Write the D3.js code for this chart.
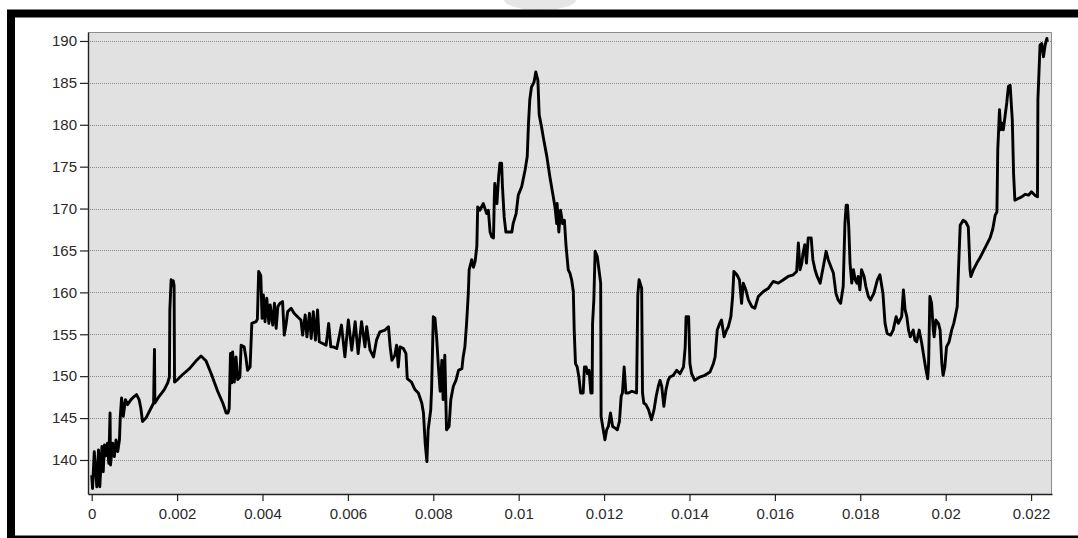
<!DOCTYPE html>
<html>
<head>
<meta charset="utf-8">
<script src="https://cdn.jsdelivr.net/npm/d3@7"></script>
<style>
  html, body { margin: 0; padding: 0; background: #fff; }
  svg { display: block; }
</style>
</head>
<body>
<div id="chart"></div>
<script>
// time in seconds
const time = [
  0, 0.00002, 0.00006, 0.00012, 0.00016, 0.00019, 0.00024, 0.00027, 0.0003, 0.00033,
  0.00037, 0.0004, 0.00043, 0.00044, 0.00049, 0.00053, 0.00057, 0.00061, 0.00065, 0.00067,
  0.0007, 0.00074, 0.00079, 0.00084, 0.00092, 0.001, 0.00105, 0.00111, 0.00115, 0.00119,
  0.00127, 0.00139, 0.00145, 0.00147, 0.00148, 0.00158, 0.0017, 0.00178, 0.00182, 0.00183,
  0.00186, 0.00189, 0.00191, 0.00193, 0.00194, 0.00201, 0.00213, 0.00229, 0.00244, 0.00256,
  0.00268, 0.00279, 0.00295, 0.00307, 0.00315, 0.00319, 0.00322, 0.00325, 0.00328, 0.0033,
  0.00334, 0.00338, 0.00342, 0.00347, 0.0035, 0.00357, 0.00361, 0.00365, 0.00371, 0.00375,
  0.00385, 0.00388, 0.00391, 0.00396, 0.00399, 0.00402, 0.00406, 0.0041, 0.00415, 0.00418,
  0.00424, 0.00428, 0.00432, 0.00436, 0.00441, 0.00447, 0.00451, 0.00455, 0.00459, 0.00467,
  0.00474, 0.00482, 0.0049, 0.00494, 0.005, 0.00504, 0.0051, 0.00514, 0.00519, 0.00524,
  0.00529, 0.00533, 0.00541, 0.00549, 0.00555, 0.0056, 0.00566, 0.00574, 0.00585, 0.00593,
  0.00601, 0.00609, 0.00617, 0.00624, 0.00632, 0.0064, 0.00644, 0.00652, 0.0066, 0.00667,
  0.00675, 0.00687, 0.00695, 0.00699, 0.00703, 0.0071, 0.00714, 0.00718, 0.00722, 0.0073,
  0.00736, 0.00739, 0.00749, 0.00757, 0.00765, 0.00773, 0.00777, 0.00781, 0.00785, 0.00788,
  0.00794, 0.00796, 0.008, 0.00804, 0.00808, 0.00812, 0.00816, 0.0082, 0.00823, 0.00827,
  0.00831, 0.00837, 0.00841, 0.00847, 0.00853, 0.00859, 0.00867, 0.0087, 0.00874, 0.00878,
  0.00882, 0.00884, 0.0089, 0.00894, 0.00898, 0.00902, 0.00904, 0.00909, 0.00917, 0.00925,
  0.00929, 0.00933, 0.00937, 0.00941, 0.00943, 0.00944, 0.00949, 0.00953, 0.00956, 0.0096,
  0.00962, 0.00966, 0.0097, 0.00984, 0.00987, 0.00994, 0.00999, 0.01007, 0.01015, 0.0102,
  0.01023, 0.01026, 0.0103, 0.01036, 0.0104, 0.01045, 0.01048, 0.01054, 0.01058, 0.01066,
  0.01073, 0.01081, 0.01085, 0.01089, 0.0109, 0.01094, 0.01098, 0.01103, 0.01107, 0.01111,
  0.01116, 0.0112, 0.01124, 0.01128, 0.0113, 0.01133, 0.01137, 0.01141, 0.01145, 0.01151,
  0.01154, 0.01158, 0.01161, 0.01165, 0.01169, 0.01172, 0.01173, 0.01176, 0.01179, 0.01184,
  0.01188, 0.01192, 0.01193, 0.01198, 0.01202, 0.01206, 0.0121, 0.01215, 0.0122, 0.01226,
  0.01231, 0.01236, 0.0124, 0.01243, 0.01247, 0.01251, 0.01257, 0.01265, 0.01276, 0.01279,
  0.01282, 0.01288, 0.0129, 0.01293, 0.01298, 0.01304, 0.01311, 0.01317, 0.01322, 0.01327,
  0.01331, 0.01335, 0.0134, 0.01345, 0.0135, 0.01354, 0.01362, 0.0137, 0.01378, 0.01386,
  0.0139, 0.01392, 0.01398, 0.01401, 0.01405, 0.01412, 0.01424, 0.01436, 0.01448, 0.01456,
  0.0146, 0.01465, 0.01471, 0.01475, 0.01481, 0.01487, 0.01491, 0.01497, 0.01501, 0.01504,
  0.01511, 0.01517, 0.01522, 0.01526, 0.01532, 0.01538, 0.01546, 0.01553, 0.01561, 0.01573,
  0.01585, 0.01596, 0.01608, 0.0162, 0.01631, 0.01643, 0.01651, 0.01655, 0.01659, 0.01663,
  0.01666, 0.0167, 0.01674, 0.01678, 0.01685, 0.01689, 0.01694, 0.01699, 0.01706, 0.01712,
  0.01715, 0.0172, 0.01725, 0.01731, 0.01737, 0.01743, 0.01748, 0.01754, 0.0176, 0.01764,
  0.01767, 0.0177, 0.01773, 0.01776, 0.0178, 0.01784, 0.01788, 0.01792, 0.01795, 0.01799,
  0.01803, 0.01809, 0.01813, 0.01819, 0.01824, 0.01832, 0.0184, 0.01846, 0.01853, 0.01858,
  0.01863, 0.01871, 0.01877, 0.01884, 0.01889, 0.01897, 0.01901, 0.01905, 0.01909, 0.01913,
  0.01917, 0.01924, 0.01928, 0.01932, 0.01938, 0.01944, 0.01949, 0.01954, 0.01958, 0.0196,
  0.01963, 0.01967, 0.01971, 0.01973, 0.01977, 0.01983, 0.01987, 0.01991, 0.01994, 0.01998,
  0.02002, 0.02008, 0.02014, 0.02019, 0.02024, 0.02027, 0.0203, 0.02034, 0.02041, 0.02047,
  0.02053, 0.02057, 0.02059, 0.02065, 0.02073, 0.0208, 0.02088, 0.02096, 0.02104, 0.0211,
  0.02116, 0.0212, 0.02122, 0.02126, 0.02129, 0.02132, 0.02135, 0.02139, 0.02143, 0.02147,
  0.02151, 0.02154, 0.02156, 0.02159, 0.02162, 0.0217, 0.02178, 0.02186, 0.02194, 0.02201,
  0.02209, 0.02215, 0.02216, 0.02219, 0.02221, 0.02225, 0.02229, 0.02233, 0.02237, 0.02238
];

const value = [
  138.2, 136.6, 141.0, 136.8, 141.2, 136.8, 141.6, 138.6, 141.8, 140.5,
  142.0, 139.6, 145.6, 139.4, 142.0, 140.4, 142.4, 141.0, 142.4, 145.2,
  147.4, 145.2, 147.2, 146.6, 147.2, 147.6, 147.8, 147.2, 146.2, 144.6,
  145.0, 146.2, 146.8, 153.2, 146.8, 147.6, 148.4, 149.2, 149.9, 157.9,
  161.5, 160.8, 161.4, 160.8, 149.3, 149.6, 150.2, 150.9, 151.8, 152.4,
  151.8, 150.4, 148.2, 146.8, 145.6, 145.6, 146.1, 152.7, 149.2, 152.9,
  149.3, 152.3, 149.6, 149.9, 153.7, 153.5, 152.3, 150.7, 151.1, 156.3,
  156.5, 156.8, 162.5, 162.0, 156.9, 159.7, 156.5, 159.3, 156.3, 158.5,
  156.1, 158.7, 155.7, 158.3, 158.7, 158.9, 154.9, 156.1, 157.7, 158.1,
  157.5, 157.1, 156.7, 154.9, 157.3, 154.7, 157.5, 154.5, 157.7, 154.3,
  157.9, 154.1, 153.9, 153.7, 156.3, 153.5, 153.5, 153.3, 156.1, 152.3,
  156.7, 153.1, 156.5, 152.7, 156.5, 153.5, 155.9, 153.1, 152.3, 154.3,
  155.3, 155.5, 155.9, 153.5, 151.9, 152.5, 153.7, 151.1, 153.5, 153.3,
  152.7, 149.7, 149.3, 148.4, 148.0, 146.8, 145.6, 142.0, 139.8, 143.6,
  146.0, 148.4, 157.1, 156.9, 154.5, 151.1, 148.2, 151.9, 147.2, 152.5,
  143.6, 144.0, 147.2, 148.8, 149.5, 150.7, 150.9, 152.3, 153.5, 156.3,
  159.9, 162.7, 163.9, 163.0, 163.7, 165.5, 170.2, 169.8, 170.6, 169.4,
  169.8, 167.2, 166.6, 166.5, 171.4, 173.0, 170.6, 173.8, 175.4, 175.4,
  172.6, 169.0, 167.2, 167.2, 168.2, 169.4, 171.6, 172.6, 174.6, 176.2,
  180.2, 183.0, 184.5, 185.1, 186.3, 185.3, 181.2, 179.6, 178.4, 176.2,
  173.8, 171.4, 170.2, 168.2, 170.6, 167.2, 169.8, 168.2, 168.6, 165.5,
  162.7, 162.3, 161.5, 160.1, 155.5, 151.5, 151.1, 149.9, 148.0, 148.0,
  151.1, 151.1, 150.3, 150.7, 148.0, 148.0, 156.3, 159.1, 164.9, 164.3,
  162.7, 161.1, 145.2, 143.6, 142.4, 143.6, 144.0, 145.6, 144.0, 143.8,
  143.6, 144.6, 147.6, 148.0, 151.1, 148.0, 148.0, 148.2, 148.0, 159.7,
  161.5, 160.5, 148.0, 146.8, 146.6, 146.0, 144.8, 146.0, 147.6, 148.8,
  149.5, 148.8, 146.4, 148.4, 149.5, 149.9, 150.1, 150.7, 150.3, 151.1,
  153.5, 157.1, 157.1, 151.5, 150.3, 149.5, 149.9, 150.1, 150.5, 151.5,
  152.3, 155.5, 156.3, 156.7, 154.7, 155.5, 155.9, 157.1, 159.5, 162.5,
  162.1, 161.5, 158.7, 161.1, 160.3, 159.1, 158.3, 158.1, 159.5, 160.1,
  160.5, 161.3, 161.1, 161.5, 161.9, 162.1, 162.5, 165.9, 162.7, 163.5,
  164.7, 165.7, 163.5, 166.5, 166.5, 163.9, 162.7, 161.9, 161.1, 162.7,
  163.5, 164.9, 163.9, 163.1, 162.3, 159.9, 159.1, 158.7, 160.7, 168.2,
  170.4, 170.4, 167.8, 163.5, 161.1, 162.7, 161.5, 161.1, 161.9, 160.3,
  162.7, 161.9, 160.7, 159.5, 159.1, 159.9, 161.5, 162.1, 159.9, 156.3,
  155.1, 154.9, 155.5, 157.1, 156.3, 157.1, 160.3, 157.9, 157.1, 155.5,
  154.7, 155.5, 154.3, 154.1, 155.5, 153.9, 152.3, 150.7, 149.7, 151.5,
  159.5, 158.7, 155.5, 154.7, 156.7, 156.3, 155.5, 151.5, 150.1, 151.1,
  153.5, 154.1, 155.5, 156.3, 157.5, 158.3, 162.7, 168.0, 168.6, 168.4,
  167.8, 162.7, 161.9, 162.7, 163.5, 164.1, 164.9, 165.7, 166.5, 167.5,
  169.2, 169.6, 177.0, 181.8, 179.4, 180.2, 179.4, 181.0, 182.6, 184.6,
  184.7, 182.2, 180.6, 174.2, 171.0, 171.2, 171.4, 171.7, 171.6, 172.0,
  171.6, 171.4, 183.0, 186.9, 189.5, 189.7, 188.1, 189.5, 190.3, 189.9
];

const xTicks = [0, 0.002, 0.004, 0.006, 0.008, 0.01, 0.012, 0.014, 0.016, 0.018, 0.02, 0.022];
const yTicks = [140, 145, 150, 155, 160, 165, 170, 175, 180, 185, 190];

if (time.length !== value.length) console.error('length mismatch', time.length, value.length);
const data = time.map((t, i) => ({ t: t, v: value[i] }));

const W = 1078, H = 538;
// plot box
const margin = { top: 32, right: 26, bottom: 44, left: 88 };
const plotW = W - margin.left - margin.right;
const plotH = H - margin.top - margin.bottom;

const svg = d3.select('#chart')
  .append('svg')
  .attr('width', W)
  .attr('height', H);

// little grey tab peeking above the frame
svg.append('ellipse')
  .attr('cx', 540).attr('cy', 0)
  .attr('rx', 36).attr('ry', 10)
  .attr('fill', '#e6e6e6');

// thick black window frame (runs off the right edge)
svg.append('rect')
  .attr('x', 11).attr('y', 13.5)
  .attr('width', 1200).attr('height', 526)
  .attr('fill', '#fff')
  .attr('stroke', '#000')
  .attr('stroke-width', 8);

const g = svg.append('g')
  .attr('transform', `translate(${margin.left},${margin.top})`);

const x = d3.scaleLinear()
  .domain([-0.0000866, 0.02249])
  .range([0, plotW]);

const y = d3.scaleLinear()
  .domain([135.94, 191.07])
  .range([plotH, 0]);

g.append('rect')
  .attr('width', plotW)
  .attr('height', plotH)
  .attr('fill', '#e1e1e1');

// dotted horizontal grid
g.append('g')
  .selectAll('line')
  .data(yTicks)
  .join('line')
  .attr('x1', 0)
  .attr('x2', plotW)
  .attr('y1', d => Math.round(y(d)) + 0.5)
  .attr('y2', d => Math.round(y(d)) + 0.5)
  .attr('stroke', '#8a8a8a')
  .attr('stroke-width', 1)
  .attr('stroke-dasharray', '1,1');

// top and right border of the plot box
g.append('path')
  .attr('d', `M0.5,0.5H${plotW - 0.5}V${plotH}`)
  .attr('fill', 'none')
  .attr('stroke', '#8c8c8c');

const line = d3.line()
  .x(d => x(d.t))
  .y(d => y(d.v));

g.append('path')
  .datum(data)
  .attr('fill', 'none')
  .attr('stroke', '#000')
  .attr('stroke-width', 2.9)
  .attr('stroke-linejoin', 'round')
  .attr('d', line);

// axes
const xAxis = d3.axisBottom(x)
  .tickValues(xTicks)
  .tickFormat(d3.format('~g'))
  .tickSize(7)
  .tickSizeOuter(0)
  .tickPadding(7);

const yAxis = d3.axisLeft(y)
  .tickValues(yTicks)
  .tickSize(8)
  .tickSizeOuter(0)
  .tickPadding(3);

const gx = g.append('g')
  .attr('transform', `translate(0,${plotH})`)
  .call(xAxis);

const gy = g.append('g')
  .call(yAxis);

[gx, gy].forEach(a => {
  a.select('.domain').attr('stroke', '#222').attr('stroke-width', 1.4);
  a.selectAll('.tick line').attr('stroke', '#222').attr('stroke-width', 1.2);
  a.selectAll('.tick text')
    .attr('fill', '#2a2a2a')
    .style('font-family', '"Liberation Sans", Arial, sans-serif')
    .style('font-size', '15px');
});
</script>
</body>
</html>
